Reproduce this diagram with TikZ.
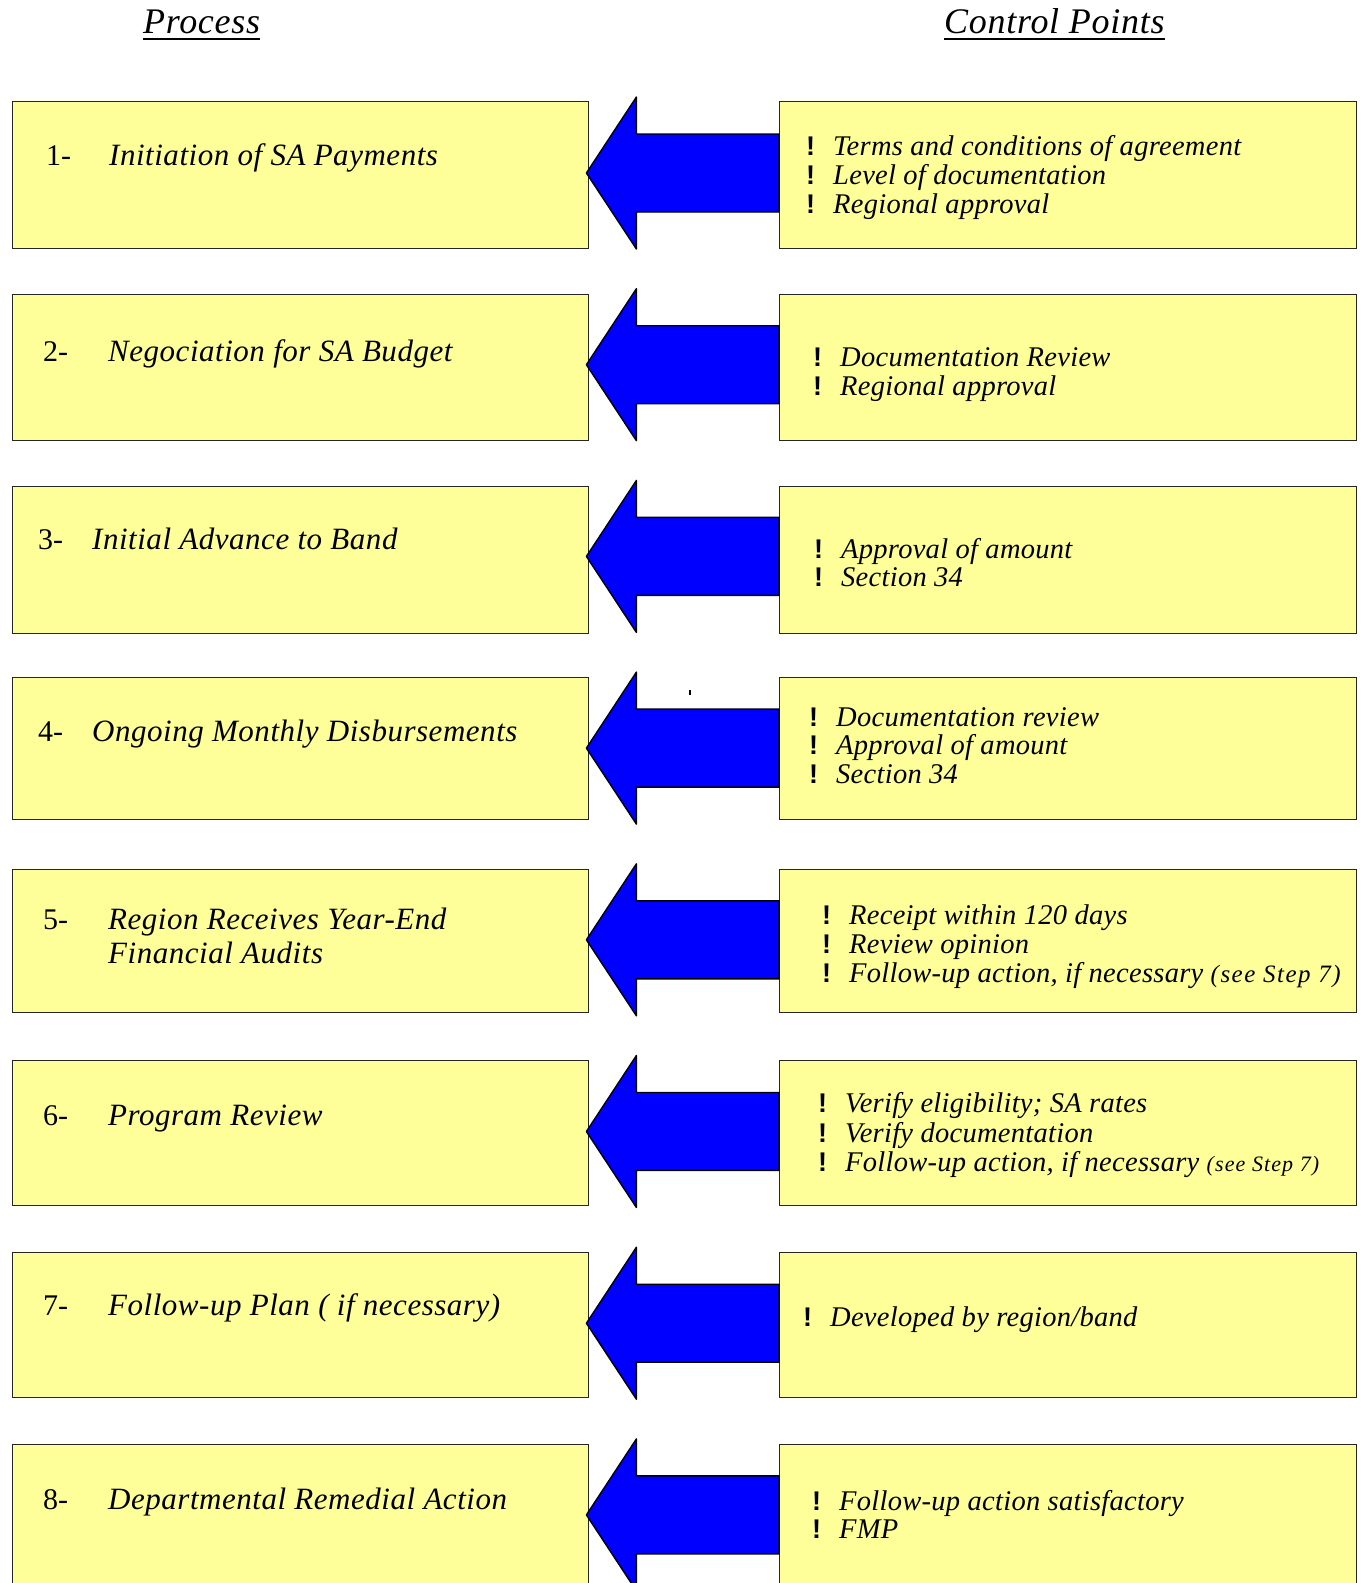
\documentclass[tikz,border=0pt]{standalone}
\usepackage{fontspec}
\setmainfont{Liberation Serif}
\newfontfamily\lfont{Liberation Serif}[LetterSpace=1.7]
\newfontfamily\rfont{Liberation Serif}[LetterSpace=1]
\newfontfamily\hfont{Liberation Serif}[LetterSpace=2]
\newfontfamily\bfont{Liberation Sans}
\usetikzlibrary{calc}
\definecolor{boxyellow}{RGB}{255,255,153}
\definecolor{arrowblue}{RGB}{0,0,255}
\tikzset{
 box/.style={draw=black!85, fill=boxyellow, line width=1.4pt, anchor=north west, inner sep=0pt, minimum width=576pt},
 barrow/.style={draw=black, fill=arrowblue, line width=1.4pt, line join=round},
 numtext/.style={anchor=base west, inner sep=0pt, font=\fontsize{30}{31}\selectfont},
 ptext/.style={anchor=base west, inner sep=0pt, font=\lfont\itshape\fontsize{31}{33}\selectfont},
 ctext/.style={anchor=base west, inner sep=0pt, font=\rfont\itshape\fontsize{28.5}{29}\selectfont},
 bullet/.style={anchor=base west, inner sep=0pt, font=\bfont\bfseries\fontsize{27}{29}\selectfont},
 head/.style={anchor=base west, inner sep=0pt, font=\hfont\itshape\fontsize{36}{36}\selectfont},
}
\newcommand\cpline[4]{\node[bullet] (#1b) at (#2-27,#3) {!}; \node[ctext] (#1) at (#2,#3) {#4};}
% #1 tip name, #2 left node, #3 right node, #4 tip y
\newcommand\blockarrow[4]{%
  \coordinate (#1) at ($(#2.east |- 0,#4)+(-3,0)$);
  \draw[barrow] (#1) -- ++(50,-76) -- ++(0,37)
     -- ($(#3.west |- #1)+(0,-39)$) -- ($(#3.west |- #1)+(0,39)$)
     -- ($(#1)+(50,39)$) -- ++(0,37) -- cycle;}
\begin{document}
\begin{tikzpicture}[x=1pt,y=-1pt]
\useasboundingbox (0,0) rectangle (1363,1583);
\clip (0,0) rectangle (1363,1583);
% headers
\node[head] (hp) at (143,33) {Process};
\node[head] (hc) at (944,33) {Control Points};
\draw[line width=2.5pt] ($(hp.base west)+(0,6)$) -- ($(hp.base east)+(0,6)$);
\draw[line width=2.5pt] ($(hc.base west)+(0,6)$) -- ($(hc.base east)+(0,6)$);
% boxes
\node[box, minimum height=147pt] (L1) at (12,101) {};
\node[box, minimum height=147pt, minimum width=577pt] (R1) at (779,101) {};
\node[box, minimum height=146pt] (L2) at (12,294) {};
\node[box, minimum height=146pt, minimum width=577pt] (R2) at (779,294) {};
\node[box, minimum height=147pt] (L3) at (12,486) {};
\node[box, minimum height=147pt, minimum width=577pt] (R3) at (779,486) {};
\node[box, minimum height=142pt] (L4) at (12,677) {};
\node[box, minimum height=142pt, minimum width=577pt] (R4) at (779,677) {};
\node[box, minimum height=143pt] (L5) at (12,869) {};
\node[box, minimum height=143pt, minimum width=577pt] (R5) at (779,869) {};
\node[box, minimum height=145pt] (L6) at (12,1060) {};
\node[box, minimum height=145pt, minimum width=577pt] (R6) at (779,1060) {};
\node[box, minimum height=145pt] (L7) at (12,1252) {};
\node[box, minimum height=145pt, minimum width=577pt] (R7) at (779,1252) {};
\node[box, minimum height=200pt] (L8) at (12,1444) {};
\node[box, minimum height=200pt, minimum width=577pt] (R8) at (779,1444) {};
% arrows
\blockarrow{t1}{L1}{R1}{173}
\blockarrow{t2}{L2}{R2}{364.7}
\blockarrow{t3}{L3}{R3}{556.4}
\blockarrow{t4}{L4}{R4}{748.1}
\blockarrow{t5}{L5}{R5}{939.8}
\blockarrow{t6}{L6}{R6}{1131.5}
\blockarrow{t7}{L7}{R7}{1323.2}
\blockarrow{t8}{L8}{R8}{1514.9}
\fill (689,690) rectangle (691,695);
% process texts
\node[numtext] (n1) at (46,165) {1-};
\node[ptext] (p1) at (109,165) {Initiation of SA Payments};
\node[numtext] (n2) at (43,361) {2-};
\node[ptext] (p2) at (108,361) {Negociation for SA Budget};
\node[numtext] (n3) at (38,549) {3-};
\node[ptext] (p3) at (92,549) {Initial Advance to Band};
\node[numtext] (n4) at (38,741) {4-};
\node[ptext] (p4) at (92,741) {Ongoing Monthly Disbursements};
\node[numtext] (n5) at (43,929) {5-};
\node[ptext] (p5) at (108,929) {Region Receives Year-End};
\node[ptext] (p5b) at (108,963) {Financial Audits};
\node[numtext] (n6) at (43,1125) {6-};
\node[ptext] (p6) at (108,1125) {Program Review};
\node[numtext] (n7) at (43,1315) {7-};
\node[ptext] (p7) at (108,1315) {Follow-up Plan ( if necessary)};
\node[numtext] (n8) at (43,1509) {8-};
\node[ptext] (p8) at (108,1509) {Departmental Remedial Action};
% control points
\cpline{c11}{833}{155}{Terms and conditions of agreement}
\cpline{c12}{833}{184.3}{Level of documentation}
\cpline{c13}{833}{213.6}{Regional approval}
\cpline{c21}{840}{366.4}{Documentation Review}
\cpline{c22}{840}{395.7}{Regional approval}
\cpline{c31}{841}{558}{Approval of amount}
\cpline{c32}{841}{586.5}{Section 34}
\cpline{c41}{836}{726}{Documentation review}
\cpline{c42}{836}{754}{Approval of amount}
\cpline{c43}{836}{783}{Section 34}
\cpline{c51}{849}{924}{Receipt within 120 days}
\cpline{c52}{849}{953}{Review opinion}
\cpline{c53}{849}{982}{Follow-up action, if necessary {\addfontfeature{LetterSpace=6}\fontsize{25}{29}\selectfont(see Step 7)}}
\cpline{c61}{845}{1112.5}{Verify eligibility; SA rates}
\cpline{c62}{845}{1142}{Verify documentation}
\cpline{c63}{845}{1171}{Follow-up action, if necessary {\addfontfeature{LetterSpace=5}\fontsize{22}{29}\selectfont(see Step 7)}}
\cpline{c71}{830}{1326.5}{Developed by region/band}
\cpline{c81}{839}{1510}{Follow-up action satisfactory}
\cpline{c82}{839}{1538.5}{FMP}
\end{tikzpicture}
\end{document}
